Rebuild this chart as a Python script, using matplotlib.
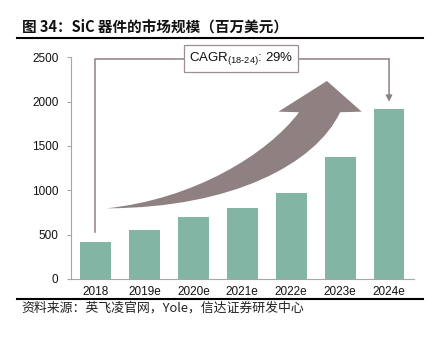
import matplotlib
matplotlib.use("Agg")
import matplotlib.pyplot as plt
from matplotlib.path import Path
from matplotlib.patches import PathPatch

# data
years = ['2018', '2019e', '2020e', '2021e', '2022e', '2023e', '2024e']
market = [420, 555, 695, 795, 970, 1375, 1920]
y_ticks = [0, 500, 1000, 1500, 2000, 2500]

title = '图 34：SiC 器件的市场规模（百万美元）'
source = '资料来源：英飞凌官网，Yole，信达证券研发中心'
cagr_label = 'CAGR$_{(18\u201024)}$: 29%'

bar_color = '#83b5a5'
arrow_color = '#8f8081'
axis_color = '#a6a6a6'

plt.rcParams['font.family'] = ['Liberation Sans', 'DejaVu Sans']
plt.rcParams['mathtext.default'] = 'regular'
cjk = ['Noto Sans CJK SC', 'DejaVu Sans']

fig = plt.figure(figsize=(4.34, 3.38), dpi=100)
ax = fig.add_axes([0.1636, 0.1746, 0.7892, 0.6559])

x = list(range(len(years)))
ax.bar(x, market, width=0.63, color=bar_color, zorder=2)

ax.set_xlim(-0.5, len(years) - 0.5)
ax.set_ylim(0, 2500)
ax.set_yticks(y_ticks)
ax.set_xticks(x)
ax.set_xticklabels(years)
ax.tick_params(axis='x', length=0, pad=5, labelsize=8.5, colors='#111111')
ax.tick_params(axis='y', length=3, width=0.8, color=axis_color, pad=6,
               labelsize=8.5, labelcolor='#111111')
for s in ['top', 'right']:
    ax.spines[s].set_visible(False)
for s in ['left', 'bottom']:
    ax.spines[s].set_color(axis_color)
    ax.spines[s].set_linewidth(0.8)

# bracket from first to last bar
ax.plot([x[0], x[0], x[-1]], [535, 2480, 2480], color=arrow_color, lw=1.1,
        zorder=3, solid_joinstyle='miter')
ax.annotate('', xy=(x[-1], 2000), xytext=(x[-1], 2480),
            arrowprops=dict(arrowstyle='-|>,head_length=0.35,head_width=0.18',
                            color=arrow_color, lw=1.1, shrinkA=0, shrinkB=0),
            zorder=3)
ax.text(2.98, 2481, cagr_label, ha='center', va='center', fontsize=9.5,
        color='#111111', zorder=4,
        bbox=dict(boxstyle='square,pad=0.38', fc='white', ec='#9a9091', lw=0.9))

# big curved growth arrow
verts = [(0.23, 797),
         (2.0, 900), (3.5, 1400), (4.16, 1880),
         (3.74, 1887), (4.73, 2233), (5.44, 1887), (5.0, 1880),
         (4.5, 1300), (2.8, 800), (0.23, 797),
         (0.23, 797)]
codes = [Path.MOVETO,
         Path.CURVE4, Path.CURVE4, Path.CURVE4,
         Path.LINETO, Path.LINETO, Path.LINETO, Path.LINETO,
         Path.CURVE4, Path.CURVE4, Path.CURVE4,
         Path.CLOSEPOLY]
ax.add_patch(PathPatch(Path(verts, codes), fc=arrow_color, ec='none', zorder=3))

# header / footer
fig.text(0.05, 0.921, title, family=cjk, fontsize=10.5, fontweight='bold',
         ha='left', va='center', color='#111111')
fig.add_artist(plt.Line2D([0.04, 0.974], [0.889, 0.889], color='black', lw=1.5))
fig.add_artist(plt.Line2D([0.04, 0.974], [0.115, 0.115], color='black', lw=1.5))
fig.text(0.05, 0.089, source, family=cjk, fontsize=9.3, ha='left', va='center',
         color='#222222')

fig.savefig('out.png', dpi=100)
